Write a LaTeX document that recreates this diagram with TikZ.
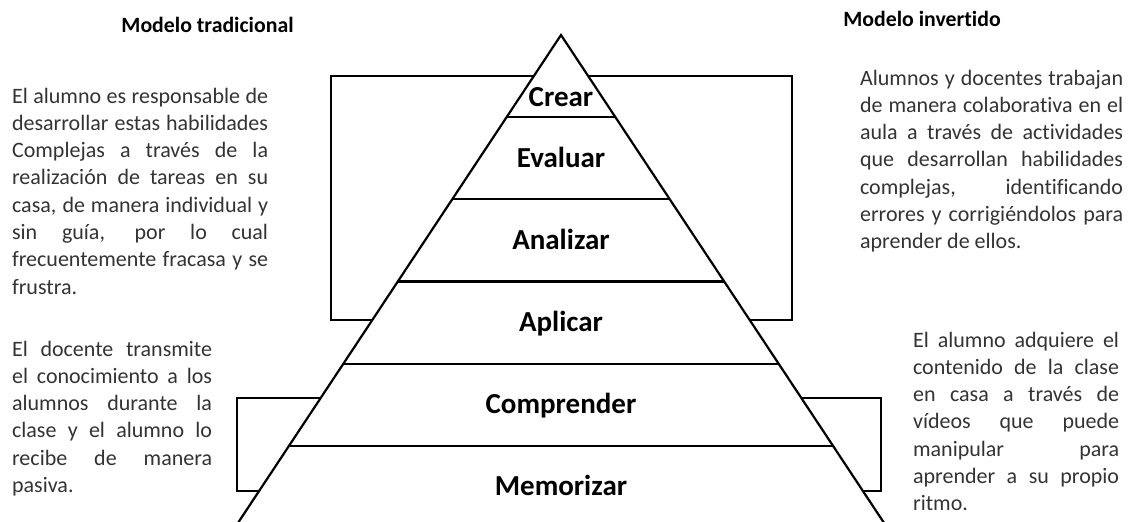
\documentclass[tikz,border=0pt]{standalone}
\usepackage{fontspec}
\setmainfont{Carlito}[Ligatures={NoCommon,NoContextual}]
\usetikzlibrary{calc}
\tikzstyle{tier}=[font=\bfseries\fontsize{29}{34}\selectfont,inner sep=0pt,anchor=base]
\tikzstyle{heading}=[font=\bfseries\fontsize{21.8}{26}\selectfont,inner sep=0pt,anchor=base]
\tikzstyle{remark}=[font=\fontsize{22}{27.3}\selectfont,text=black!80,inner sep=0pt,anchor=base west,align=justify]
\hyphenpenalty=10000
\tolerance=10000

\begin{document}
\begin{tikzpicture}[x=1pt,y=-1pt,line width=2.2pt]
\useasboundingbox (0,0) rectangle (1136,522);
\clip (0,0) rectangle (1136,522);
% brackets behind the pyramid
\draw (331,76) rectangle (792,320);
\draw (237,398) rectangle (881,491);
% pyramid
\coordinate (top) at (561,35);
\coordinate (bl) at (234.6,528);
\coordinate (br) at (887.4,528);
\fill[white] (top) -- (bl) -- (br) -- cycle;
\draw (bl) -- (top) -- (br);
\foreach \k in {1,...,5}
  \draw ($(top)!\k/6!(bl)$) -- ($(top)!\k/6!(br)$);
\node[tier] (crear) at (561,106) {Crear};
\node[tier] (evaluar) at (561,167) {Evaluar};
\node[tier] (analizar) at (561,249.2) {Analizar};
\node[tier] (aplicar) at (561,331.4) {Aplicar};
\node[tier] (comprender) at (561,413.6) {Comprender};
\node[tier] (memorizar) at (561,495.8) {Memorizar};
% headings
\node[heading] (trad) at (207.5,32) {Modelo tradicional};
\node[heading] (inv) at (922,26) {Modelo invertido};
% texts
\node[remark,text width=256pt] (tradhigh) at (11,103) {El alumno es responsable de\linebreak desarrollar estas habilidades\linebreak Complejas a través de la\linebreak realización de tareas en su\linebreak casa, de manera individual y\linebreak sin guía, por lo cual\linebreak frecuentemente fracasa y se\linebreak frustra.};
\node[remark,text width=200pt] (tradlow) at (11,356) {El docente transmite\linebreak el conocimiento a los\linebreak alumnos durante la\linebreak clase y el alumno lo\linebreak recibe de manera\linebreak pasiva.};
\node[remark,text width=263pt] (invhigh) at (859,85) {Alumnos y docentes trabajan\linebreak de manera colaborativa en el\linebreak aula a través de actividades\linebreak que desarrollan habilidades\linebreak complejas, identificando\linebreak errores y corrigiéndolos para\linebreak aprender de ellos.};
\node[remark,text width=206pt] (invlow) at (912,347) {El alumno adquiere el\linebreak contenido de la clase\linebreak en casa a través de\linebreak vídeos que puede\linebreak manipular para\linebreak aprender a su propio\linebreak ritmo.};
\end{tikzpicture}
\end{document}
